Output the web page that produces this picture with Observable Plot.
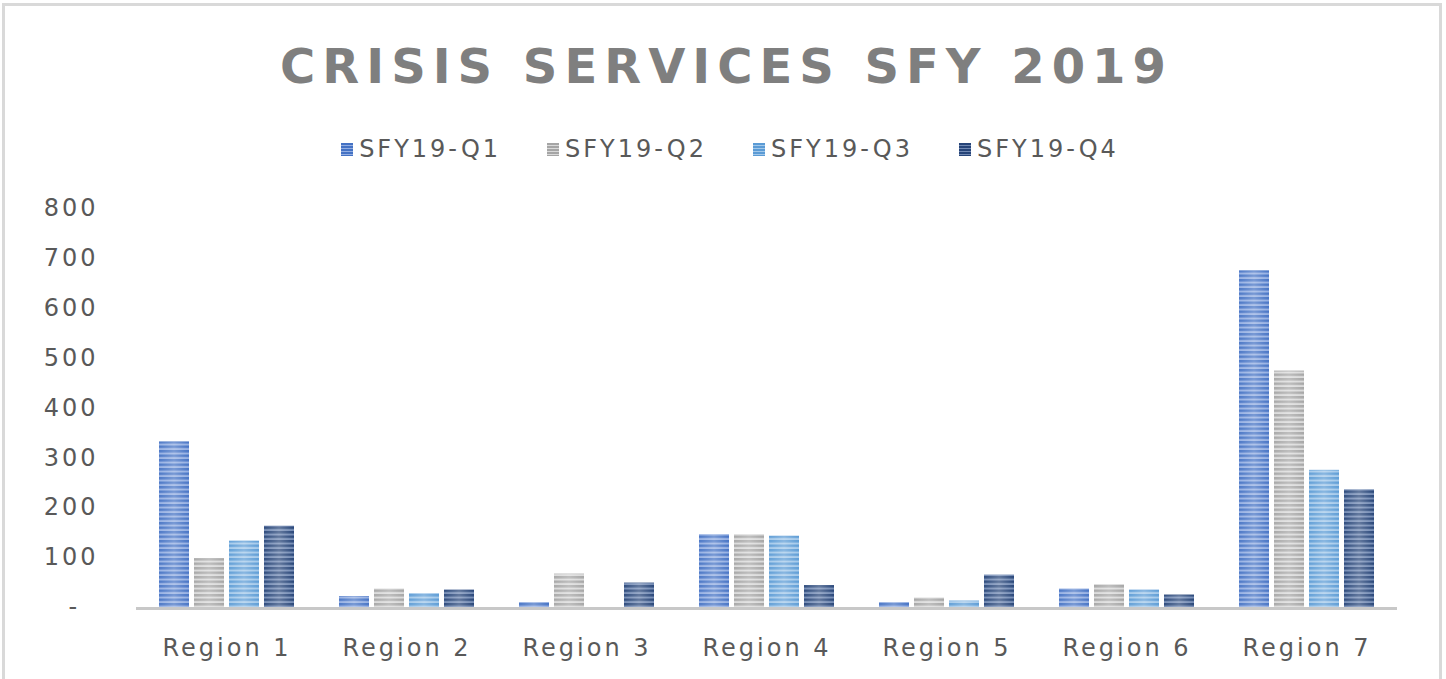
<!DOCTYPE html>
<html><head><meta charset="utf-8">
<script src="https://cdn.jsdelivr.net/npm/d3@7"></script>
<script src="https://cdn.jsdelivr.net/npm/@observablehq/plot@0.6"></script>
<style>
html,body{margin:0;padding:0;background:#fff;width:1446px;height:679px;overflow:hidden;position:relative;font-family:"DejaVu Sans",sans-serif;}
#frame{position:absolute;left:2px;top:3px;width:1440px;height:720px;border:3px solid #d9d9d9;border-bottom:none;box-sizing:border-box;}
#title{position:absolute;left:0;top:42px;width:1446px;text-align:center;font-size:48px;line-height:48px;font-weight:bold;color:#7f7f7f;letter-spacing:7px;padding-left:7px;box-sizing:border-box;white-space:nowrap;}
#legend{position:absolute;left:0;top:137px;width:1446px;display:flex;justify-content:center;gap:46px;font-size:24px;line-height:24px;color:#595959;letter-spacing:3px;padding-left:14px;box-sizing:border-box;}
.item{display:flex;align-items:center;}
.sw{width:12px;height:13px;margin-right:6px;}
#chart{position:absolute;left:0;top:180px;}
</style></head><body>
<div id="frame"></div>
<div id="title">CRISIS SERVICES SFY 2019</div>
<div id="legend"></div>
<div id="chart"></div>
<script>
const regions = ["Region 1", "Region 2", "Region 3", "Region 4", "Region 5", "Region 6", "Region 7"];
const quarters = ["SFY19-Q1", "SFY19-Q2", "SFY19-Q3", "SFY19-Q4"];
const q1 = [332, 22, 10, 146, 10, 37, 675];
const q2 = [98, 37, 67, 146, 19, 46, 474];
const q3 = [133, 28, 0, 143, 13, 35, 275];
const q4 = [163, 35, 49, 44, 65, 25, 236];
const yTicks = [0, 100, 200, 300, 400, 500, 600, 700, 800];
const palette = [
  {base: "#4472c4", light: "#93aee2"},
  {base: "#a5a5a5", light: "#d9d9d9"},
  {base: "#5b9bd5", light: "#a2c8ea"},
  {base: "#264478", light: "#7189b3"}
];

const series = [q1, q2, q3, q4];
const data = [];
regions.forEach((r, i) => quarters.forEach((q, j) => data.push({region: r, quarter: q, value: series[j][i]})));

// legend
const legend = document.getElementById("legend");
quarters.forEach((q, j) => {
  const it = document.createElement("div"); it.className = "item";
  const sw = document.createElement("div"); sw.className = "sw";
  sw.style.background = `repeating-linear-gradient(to bottom, ${palette[j].base} 0px, ${palette[j].base} 2px, ${palette[j].light} 2px, ${palette[j].light} 3px)`;
  const t = document.createElement("span"); t.textContent = q;
  it.appendChild(sw); it.appendChild(t); legend.appendChild(it);
});

const chart = Plot.plot({
  width: 1446, height: 499,
  marginTop: 28, marginBottom: 72, marginLeft: 136, marginRight: 49,
  style: {fontFamily: "DejaVu Sans", fontSize: "24px", color: "#595959", background: "transparent", letterSpacing: "3px", overflow: "visible"},
  facet: {data, x: "region"},
  fx: {domain: regions, paddingInner: 0.25, paddingOuter: 0.125, label: null, tickSize: 0, tickPadding: 31, axis: "bottom"},
  x: {domain: quarters, axis: null, paddingInner: 0.15, paddingOuter: 0},
  y: {domain: [0, 800], ticks: yTicks, tickSize: 0, tickPadding: 61, label: null,
      tickFormat: d => d === 0 ? "-\u00a0\u2009" : String(d)},
  color: {type: "identity"},
  marks: [
    Plot.barY(data, {x: "quarter", y: "value", fill: d => `url(#pat${quarters.indexOf(d.quarter)})`}),
    Plot.barY(data, {x: "quarter", y: "value", fill: "url(#shine)"})
  ]
});
document.getElementById("chart").appendChild(chart);

const svgEl = chart.tagName.toLowerCase() === "svg" ? chart : chart.querySelector("svg");
const svg = d3.select(svgEl);
const defs = svg.insert("defs", ":first-child");
palette.forEach((c, i) => {
  const p = defs.append("pattern").attr("id", "pat" + i).attr("patternUnits", "userSpaceOnUse").attr("width", 8).attr("height", 4.5);
  p.append("rect").attr("width", 8).attr("height", 4.5).attr("fill", c.base);
  p.append("rect").attr("y", 2.5).attr("width", 8).attr("height", 2).attr("fill", c.light);
});
const g = defs.append("linearGradient").attr("id", "shine").attr("x1", 0).attr("x2", 1).attr("y1", 0).attr("y2", 0);
g.append("stop").attr("offset", 0).attr("stop-color", "#fff").attr("stop-opacity", 0.05);
g.append("stop").attr("offset", 0.5).attr("stop-color", "#fff").attr("stop-opacity", 0.28);
g.append("stop").attr("offset", 1).attr("stop-color", "#fff").attr("stop-opacity", 0.02);

// baseline from the y scale
const ys = chart.scale("y");
const y0 = ys.apply ? ys.apply(0) : d3.scaleLinear(ys.domain, ys.range)(0);
const firstG = svgEl.querySelector("g");
const line = document.createElementNS("http://www.w3.org/2000/svg", "line");
line.setAttribute("x1", 136); line.setAttribute("x2", 1446 - 49);
line.setAttribute("y1", y0 + 1.5); line.setAttribute("y2", y0 + 1.5);
line.setAttribute("stroke", "#c8c8c8"); line.setAttribute("stroke-width", 3);
svgEl.insertBefore(line, firstG);
</script>
</body></html>
